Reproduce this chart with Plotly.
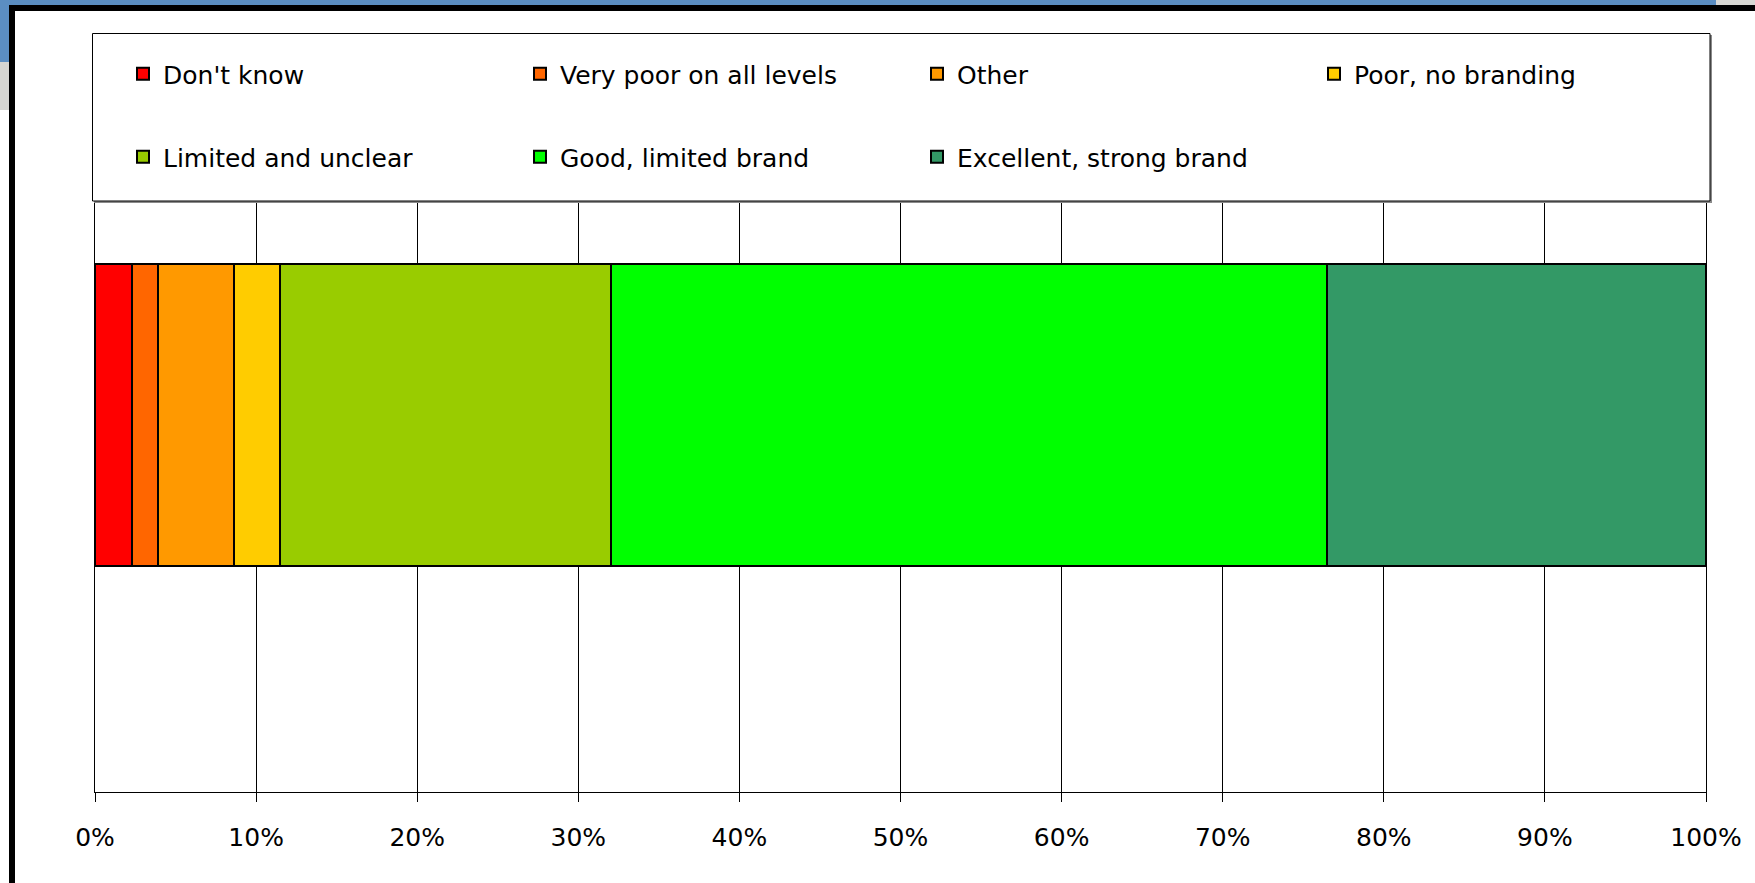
import plotly.graph_objects as go

# Survey answers, share of respondents (%)
categories = ["Don't know", "Very poor on all levels", "Other", "Poor, no branding",
              "Limited and unclear", "Good, limited brand", "Excellent, strong brand"]
shares = [2.3, 1.6, 4.7, 2.9, 20.5, 44.5, 23.5]
colors = ["#FF0000", "#FF6600", "#FF9900", "#FFCC00", "#99CC00", "#00FF00", "#339966"]
tick_values = [0, 10, 20, 30, 40, 50, 60, 70, 80, 90, 100]
tick_labels = ["0%", "10%", "20%", "30%", "40%", "50%", "60%", "70%", "80%", "90%", "100%"]
row_label = [""]

W, H = 1755, 883
L, R, T, B = 95, 49, 38, 91
FONT = "DejaVu Sans, Liberation Sans, Arial, sans-serif"


def px_x(px):
    return (px - L) / (W - L - R)


def px_y(py):
    return (H - B - py) / (H - T - B)


fig = go.Figure()
for i, (name, val, col) in enumerate(zip(categories, shares, colors)):
    fig.add_trace(go.Bar(
        x=[val], y=row_label, name=name, orientation="h",
        marker=dict(color=col, line=dict(color="black", width=2)),
        legend="legend" if i < 4 else "legend2",
        hovertemplate="%{x}%<extra>" + name + "</extra>",
    ))

shapes = [
    # page background corners
    dict(type="rect", xref="paper", yref="paper", x0=px_x(0), x1=px_x(1716), y0=px_y(5), y1=px_y(0),
         fillcolor="#5b8ec2", line_width=0, layer="below"),
    dict(type="rect", xref="paper", yref="paper", x0=px_x(1716), x1=px_x(W), y0=px_y(5), y1=px_y(0),
         fillcolor="#d8d8d4", line_width=0, layer="below"),
    dict(type="rect", xref="paper", yref="paper", x0=px_x(0), x1=px_x(9), y0=px_y(62), y1=px_y(0),
         fillcolor="#5b8ec2", line_width=0, layer="below"),
    dict(type="rect", xref="paper", yref="paper", x0=px_x(0), x1=px_x(9), y0=px_y(110), y1=px_y(62),
         fillcolor="#d6d6d2", line_width=0, layer="below"),
    # frame around the chart
    dict(type="rect", xref="paper", yref="paper", x0=px_x(9), x1=px_x(15), y0=px_y(H), y1=px_y(5),
         fillcolor="black", line_width=0, layer="above"),
    dict(type="rect", xref="paper", yref="paper", x0=px_x(9), x1=px_x(W), y0=px_y(11), y1=px_y(5),
         fillcolor="black", line_width=0, layer="above"),
    # legend box with shadow edge
    dict(type="rect", xref="paper", yref="paper", x0=px_x(94), x1=px_x(1712), y0=px_y(203), y1=px_y(35),
         fillcolor="#8a8a8a", line_width=0, layer="above"),
    dict(type="rect", xref="paper", yref="paper", x0=px_x(92.5), x1=px_x(1710), y0=px_y(201), y1=px_y(33.5),
         fillcolor="white", line=dict(color="black", width=1), layer="above"),
]

legend_common = dict(
    orientation="h", xref="paper", yref="paper", xanchor="left", yanchor="middle",
    bgcolor="rgba(0,0,0,0)", borderwidth=0, entrywidth=352, entrywidthmode="pixels",
    font=dict(family=FONT, size=25, color="black"), traceorder="normal",
    itemclick=False, itemdoubleclick=False,
)

fig.update_layout(
    width=W, height=H,
    margin=dict(l=L, r=R, t=T, b=B, pad=0),
    paper_bgcolor="white", plot_bgcolor="white",
    barmode="stack", bargap=0.6,
    showlegend=True,
    legend=dict(legend_common, x=px_x(123), y=px_y(74)),
    legend2=dict(legend_common, x=px_x(123), y=px_y(157)),
    shapes=shapes,
    font=dict(family=FONT, size=25, color="black"),
    xaxis=dict(
        range=[0, 100], tickmode="array", tickvals=tick_values, ticktext=tick_labels,
        showgrid=True, gridcolor="black", gridwidth=1,
        showline=True, linecolor="black", linewidth=1, zeroline=False,
        ticks="outside", ticklen=9, tickwidth=1, tickcolor="black",
        ticklabelstandoff=14, tickfont=dict(family=FONT, size=25, color="black"),
    ),
    yaxis=dict(
        showticklabels=False, showgrid=False, zeroline=False, ticks="",
        showline=True, mirror=True, linecolor="black", linewidth=1,
    ),
)

fig.write_html("out.html")
